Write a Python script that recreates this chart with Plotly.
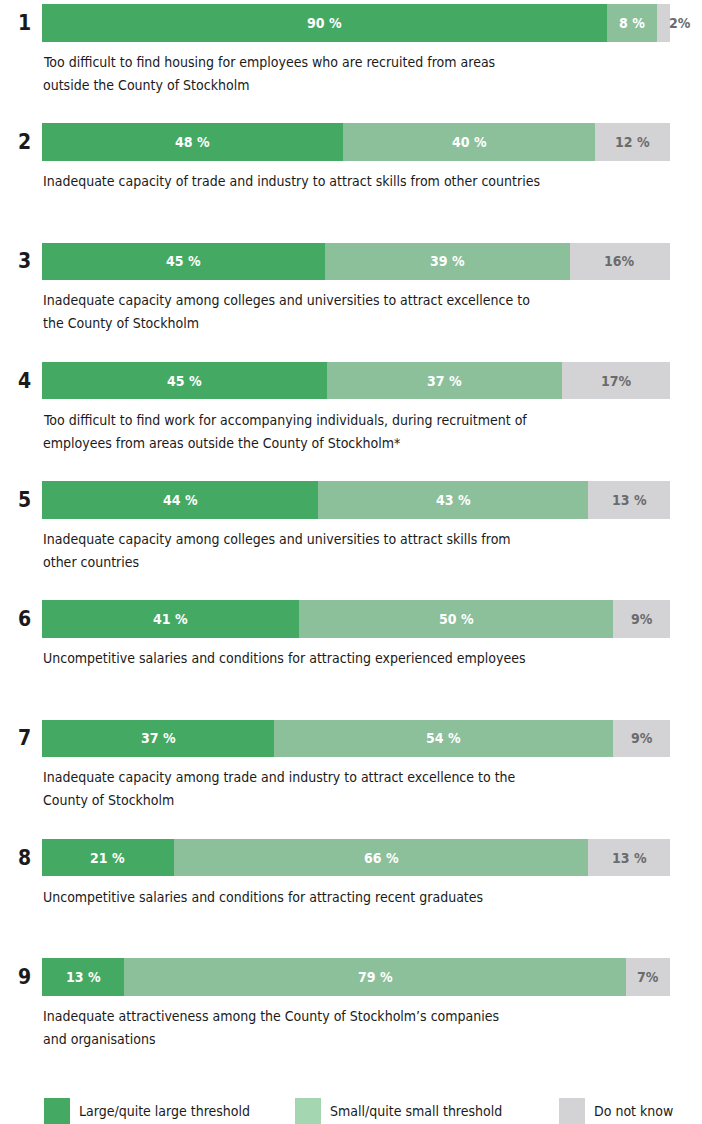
import plotly.graph_objects as go

# Survey results: share of respondents per threshold category
ranks = [1, 2, 3, 4, 5, 6, 7, 8, 9]
large = [90, 48, 45, 45, 44, 41, 37, 21, 13]
small = [8, 40, 39, 37, 43, 50, 54, 66, 79]
unknown = [2, 12, 16, 17, 13, 9, 9, 13, 7]
# separator between number and percent sign, as typeset per bar segment
large_sep = [" ", " ", " ", " ", " ", " ", " ", " ", " "]
small_sep = [" ", " ", " ", " ", " ", " ", " ", " ", " "]
unknown_sep = ["", " ", "", "", " ", "", "", " ", ""]
statements = [
    "Too difficult to find housing for employees who are recruited from areas<br>outside the County of Stockholm",
    "Inadequate capacity of trade and industry to attract skills from other countries",
    "Inadequate capacity among colleges and universities to attract excellence to<br>the County of Stockholm",
    "Too difficult to find work for accompanying individuals, during recruitment of<br>employees from areas outside the County of Stockholm*",
    "Inadequate capacity among colleges and universities to attract skills from<br>other countries",
    "Uncompetitive salaries and conditions for attracting experienced employees",
    "Inadequate capacity among trade and industry to attract excellence to the<br>County of Stockholm",
    "Uncompetitive salaries and conditions for attracting recent graduates",
    "Inadequate attractiveness among the County of Stockholm\u2019s companies<br>and organisations",
]
legend_names = ["Large/quite large threshold", "Small/quite small threshold", "Do not know"]

FONT = "DejaVu Sans Condensed, DejaVu Sans, sans-serif"
C_LARGE = "#44a962"
C_SMALL = "#8cc09b"
C_UNKNOWN = "#d3d3d6"
LEGEND_COLORS = ["#44a962", "#a5d6b2", "#d3d3d6"]

W, H = 702, 1124
rows = list(range(len(ranks)))
totals = [a + b + c for a, b, c in zip(large, small, unknown)]

fig = go.Figure()
bar_w = 0.3145
for vals, col in [(large, C_LARGE), (small, C_SMALL), (unknown, C_UNKNOWN)]:
    fig.add_trace(go.Bar(
        x=vals, y=rows, orientation="h", marker=dict(color=col, line=dict(width=0)),
        width=bar_w, showlegend=False, hoverinfo="skip",
    ))

ann = []
for i in rows:
    # value labels centred in each (row-normalised) segment
    a, b, c = large[i], small[i], unknown[i]
    s = 100.0 / totals[i]
    ann.append(dict(x=a * s / 2, y=i, text=f"<b>{a}{large_sep[i]}%</b>", showarrow=False,
                    font=dict(family=FONT, size=14, color="white")))
    ann.append(dict(x=(a + b / 2) * s, y=i, text=f"<b>{b}{small_sep[i]}%</b>", showarrow=False,
                    font=dict(family=FONT, size=14, color="white")))
    if c < 5:
        ann.append(dict(x=100, y=i, text=f"<b>{c}{unknown_sep[i]}%</b>", showarrow=False,
                        xanchor="left", xshift=-3,
                        font=dict(family=FONT, size=14, color="#6b6b6b")))
    else:
        ann.append(dict(x=(a + b + c / 2) * s, y=i, text=f"<b>{c}{unknown_sep[i]}%</b>", showarrow=False,
                        font=dict(family=FONT, size=14, color="#6b6b6b")))
    # rank number
    ann.append(dict(x=16 / W, xref="paper", y=i, text=f"<b>{ranks[i]}</b>", showarrow=False,
                    font=dict(family=FONT, size=21, color="#1a1a1a")))
    # statement text, one annotation per line
    for k, line in enumerate(statements[i].split("<br>")):
        ann.append(dict(x=0, y=i, xanchor="left", xshift=-1, yanchor="middle",
                        yshift=-39 - 23 * k, text=line, showarrow=False,
                        font=dict(family=FONT, size=14, color="#1a1a1a")))

# legend drawn as swatches with captions along the bottom
shapes = []
sw_x = [44, 295, 559]
for name, col, x0 in zip(legend_names, LEGEND_COLORS, sw_x):
    shapes.append(dict(type="rect", xref="paper", yref="paper",
                       x0=x0 / W, x1=(x0 + 26) / W, y0=0, y1=1 - 1098 / H,
                       fillcolor=col, line=dict(width=0)))
    ann.append(dict(x=(x0 + 33) / W, y=1 - 1111 / H, xref="paper", yref="paper",
                    xanchor="left", yanchor="middle", text=name, showarrow=False,
                    font=dict(family=FONT, size=14, color="#1a1a1a")))

y_top = -22.75 / 119.25
y_bot = (H - 22.75) / 119.25
fig.update_layout(
    width=W, height=H, barmode="stack", barnorm="percent", bargap=0,
    margin=dict(l=0, r=0, t=0, b=0),
    paper_bgcolor="white", plot_bgcolor="white",
    xaxis=dict(domain=[42 / W, 670 / W], range=[0, 100], visible=False, fixedrange=True),
    yaxis=dict(range=[y_bot, y_top], visible=False, fixedrange=True),
    annotations=ann, shapes=shapes,
)

fig.write_html("out.html")
